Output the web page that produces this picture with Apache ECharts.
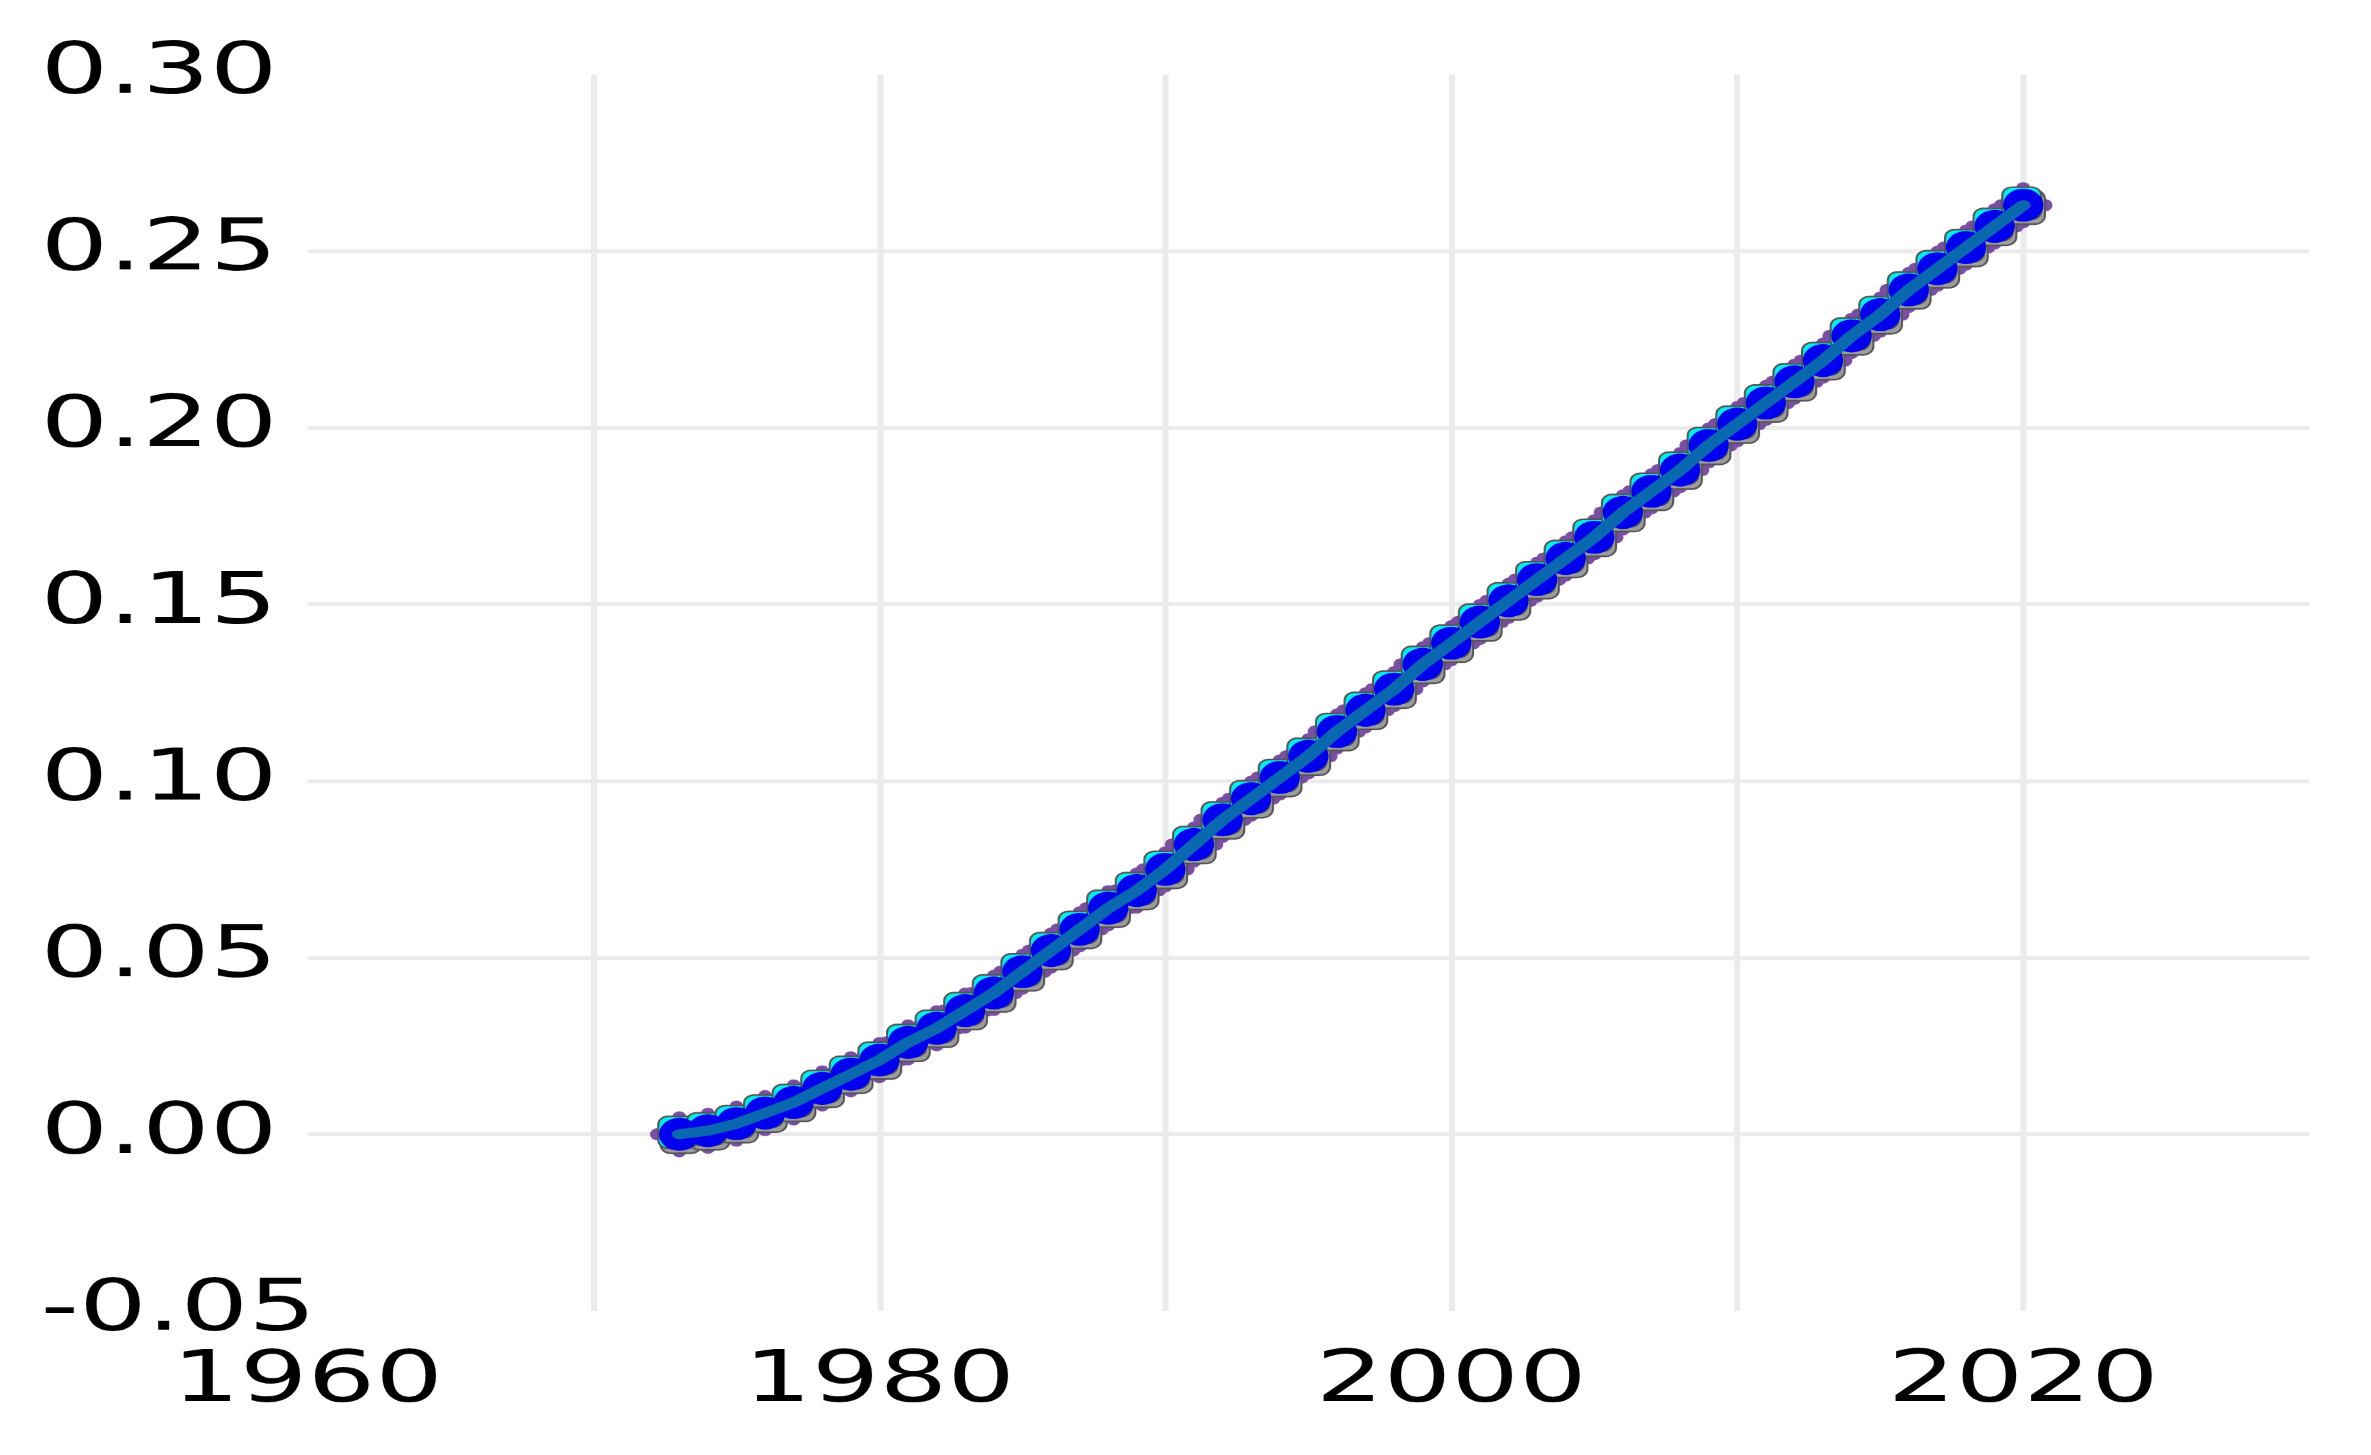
<!DOCTYPE html>
<html>
<head>
<meta charset="utf-8">
<script src="https://cdn.jsdelivr.net/npm/echarts@6/dist/echarts.min.js"></script>
<style>
html,body{margin:0;padding:0;background:#fff;overflow:hidden;}
#chart{width:1581px;height:1455px;transform:scaleX(1.4997);transform-origin:0 0;}
</style>
</head>
<body>
<div id="chart"></div>
<script>
// Data
const years = [1973,1974,1975,1976,1977,1978,1979,1980,1981,1982,1983,1984,1985,1986,1987,1988,1989,1990,1991,1992,1993,1994,1995,1996,1997,1998,1999,2000,2001,2002,2003,2004,2005,2006,2007,2008,2009,2010,2011,2012,2013,2014,2015,2016,2017,2018,2019,2020];
const values = [0.000,0.001,0.003,0.006,0.009,0.013,0.017,0.021,0.026,0.030,0.035,0.040,0.046,0.052,0.058,0.064,0.069,0.075,0.082,0.089,0.095,0.101,0.107,0.114,0.120,0.126,0.133,0.139,0.145,0.151,0.157,0.163,0.169,0.176,0.182,0.188,0.195,0.201,0.207,0.213,0.219,0.226,0.232,0.239,0.245,0.251,0.257,0.263];
const xTickLabels = ['1960','1980','2000','2020'];
const yTickLabels = ['-0.05','0.00','0.05','0.10','0.15','0.20','0.25','0.30'];

const pts = years.map((y, i) => [y, values[i]]);
const circlePath = 'path://M50,0 A50,50 0 1,1 50,100 A50,50 0 1,1 50,0 Z';

function scat(name, symbol, size, offset, color, border, z) {
  return {
    name: name, type: 'scatter', data: pts, z: z,
    symbol: symbol, symbolSize: size, symbolOffset: offset,
    itemStyle: { color: color, borderColor: border || color, borderWidth: border ? 1.5 : 0, opacity: 1 },
    silent: true, animation: false
  };
}

const chart = echarts.init(document.getElementById('chart'), null, { devicePixelRatio: 1.5 });
const font = 'DejaVu Sans';
chart.setOption({
  animation: false,
  grid: { left: 205.0, right: 41.6, top: 74.4, bottom: 144.4, containLabel: false },
  xAxis: {
    type: 'value', min: 1960, max: 2030, interval: 10,
    axisLine: { show: false }, axisTick: { show: false },
    splitLine: { show: true, showMinLine: false, showMaxLine: false, lineStyle: { color: '#ebebeb', width: 4 } },
    axisLabel: {
      show: true, margin: 36, fontFamily: font, fontSize: 71, color: '#000', showMaxLabel: false,
      formatter: v => { const s = String(Math.round(v)); return xTickLabels.indexOf(s) >= 0 ? s : ''; }
    }
  },
  yAxis: {
    type: 'value', min: -0.05, max: 0.30, interval: 0.05,
    axisLine: { show: false }, axisTick: { show: false },
    splitLine: { show: true, showMinLine: false, showMaxLine: false, lineStyle: { color: '#ebebeb', width: 4 } },
    axisLabel: {
      show: true, margin: 178, align: 'left', fontFamily: font, fontSize: 71, color: '#000',
      formatter: v => { const i = Math.round((v + 0.05) / 0.05); return yTickLabels[i] !== undefined ? yTickLabels[i] : ''; }
    }
  },
  series: [
    scat('p1', circlePath, [9, 12], [-15, 0], '#7a4fa3', null, 1),
    scat('p2', circlePath, [9, 12], [15, 0], '#7a4fa3', null, 1),
    scat('p3', circlePath, [9, 10], [0, -18], '#7a4fa3', null, 1),
    scat('p4', circlePath, [9, 10], [0, 18], '#7a4fa3', null, 1),
    scat('gray', 'roundRect', [27, 34], [1, 2], '#9c9c9c', '#555555', 2),
    scat('cyan', 'roundRect', [26, 32], [-1, -2], '#00eeee', '#555555', 3),
    scat('blue', circlePath, [27, 33], [0, 0], '#0000ee', null, 4),
    {
      name: 'line', type: 'line', data: pts, z: 10, symbol: 'none', smooth: false,
      lineStyle: { color: '#0a68b0', width: 10, cap: 'round', join: 'round' },
      silent: true, animation: false
    }
  ]
});
</script>
</body>
</html>
